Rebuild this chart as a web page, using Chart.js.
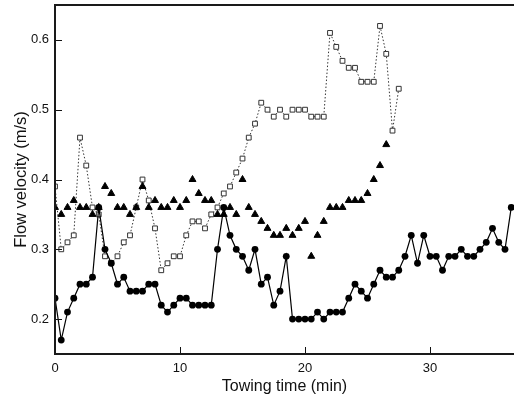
<!DOCTYPE html>
<html>
<head>
<meta charset="utf-8">
<script src="https://cdn.jsdelivr.net/npm/chart.js@4"></script>
<style>
  html, body { margin: 0; padding: 0; background: #fff; }
  #wrap { width: 514px; height: 396px; }
</style>
</head>
<body>
<div id="wrap"><canvas id="c" width="514" height="396"></canvas></div>
<script>
// Towing time (min)
const timeMin = [0,0.5,1,1.5,2,2.5,3,3.5,4,4.5,5,5.5,6,6.5,7,7.5,8,8.5,9,9.5,
  10,10.5,11,11.5,12,12.5,13,13.5,14,14.5,15,15.5,16,16.5,17,17.5,18,18.5,19,19.5,
  20,20.5,21,21.5,22,22.5,23,23.5,24,24.5,25,25.5,26,26.5,27,27.5,28,28.5,29,29.5,
  30,30.5,31,31.5,32,32.5,33,33.5,34,34.5,35,35.5,36,36.5];

// Filled circles, solid line
const circleVel = [0.23,0.17,0.21,0.23,0.25,0.25,0.26,0.36,0.30,0.28,
  0.25,0.26,0.24,0.24,0.24,0.25,0.25,0.22,0.21,0.22,
  0.23,0.23,0.22,0.22,0.22,0.22,0.30,0.36,0.32,0.30,
  0.29,0.27,0.30,0.25,0.26,0.22,0.24,0.29,0.20,0.20,
  0.20,0.20,0.21,0.20,0.21,0.21,0.21,0.23,0.25,0.24,
  0.23,0.25,0.27,0.26,0.26,0.27,0.29,0.32,0.28,0.32,
  0.29,0.29,0.27,0.29,0.29,0.30,0.29,0.29,0.30,0.31,
  0.33,0.31,0.30,0.36];

// Filled triangles, no line
const triangleVel = [0.36,0.35,0.36,0.37,0.36,0.36,0.35,0.36,0.39,0.38,
  0.36,0.36,0.35,0.36,0.39,0.36,0.37,0.36,0.36,0.37,
  0.36,0.37,0.40,0.38,0.37,0.37,0.35,0.35,0.36,0.35,
  0.40,0.36,0.35,0.34,0.33,0.32,0.32,0.33,0.32,0.33,
  0.34,0.29,0.32,0.34,0.36,0.36,0.36,0.37,0.37,0.37,
  0.38,0.40,0.42,0.45];

// Open squares, dotted line
const squareVel = [0.39,0.30,0.31,0.32,0.46,0.42,0.36,0.35,0.29,0.28,
  0.29,0.31,0.32,0.36,0.40,0.37,0.33,0.27,0.28,0.29,
  0.29,0.32,0.34,0.34,0.33,0.35,0.36,0.38,0.39,0.41,
  0.43,0.46,0.48,0.51,0.50,0.49,0.50,0.49,0.50,0.50,
  0.50,0.49,0.49,0.49,0.61,0.59,0.57,0.56,0.56,0.54,
  0.54,0.54,0.62,0.58,0.47,0.53];

const xTicks = [0, 10, 20, 30];
const yTicks = [0.2, 0.3, 0.4, 0.5, 0.6];
const xTitle = 'Towing time (min)';
const yTitle = 'Flow velocity (m/s)';

function pts(vals) { return vals.map((v, i) => ({ x: timeMin[i], y: v })); }

const FONT = '"Liberation Sans", Arial, Helvetica, sans-serif';

// Stretch the plot area to the right edge of the canvas (frame runs off the picture)
const stretchPlugin = {
  id: 'stretch',
  afterLayout(chart) {
    const a = chart.chartArea;
    const xs = chart.scales.x;
    a.right = chart.width;
    a.width = a.right - a.left;
    xs.right = chart.width;
    xs.width = xs.right - xs.left;
    xs.configure();
  }
};

const framePlugin = {
  id: 'frame',
  afterDatasetsDraw(chart) {
    const { ctx, chartArea: a, scales } = chart;
    ctx.save();
    ctx.strokeStyle = '#111';
    ctx.lineWidth = 1;
    yTicks.forEach(v => {
      const y = Math.round(scales.y.getPixelForValue(v)) + 0.5;
      ctx.beginPath(); ctx.moveTo(a.left, y); ctx.lineTo(a.left + 7, y); ctx.stroke();
    });
    xTicks.forEach(v => {
      const x = Math.round(scales.x.getPixelForValue(v)) + 0.5;
      ctx.beginPath(); ctx.moveTo(x, a.bottom); ctx.lineTo(x, a.bottom - 7); ctx.stroke();
    });
    ctx.lineWidth = 2;
    ctx.strokeStyle = '#1a1a1a';
    ctx.beginPath();
    ctx.moveTo(a.right, a.top);
    ctx.lineTo(a.left, a.top);
    ctx.lineTo(a.left, a.bottom);
    ctx.lineTo(a.right, a.bottom);
    ctx.stroke();
    ctx.restore();
  }
};

new Chart(document.getElementById('c'), {
  type: 'scatter',
  data: {
    datasets: [
      {
        label: 'squares',
        data: pts(squareVel),
        showLine: true,
        borderColor: '#333',
        borderWidth: 1,
        borderDash: [1.5, 2],
        pointStyle: 'rect',
        pointRadius: 3.4,
        pointBackgroundColor: '#fff',
        pointBorderColor: '#333',
        pointBorderWidth: 1,
        order: 3
      },
      {
        label: 'triangles',
        data: pts(triangleVel),
        showLine: false,
        pointStyle: 'triangle',
        pointRadius: 4,
        pointBackgroundColor: '#000',
        pointBorderColor: '#000',
        pointBorderWidth: 1,
        order: 2
      },
      {
        label: 'circles',
        data: pts(circleVel),
        showLine: true,
        borderColor: '#000',
        borderWidth: 1.2,
        pointStyle: 'circle',
        pointRadius: 3.4,
        pointBackgroundColor: '#000',
        pointBorderColor: '#000',
        pointBorderWidth: 0,
        order: 1
      }
    ]
  },
  options: {
    responsive: false,
    animation: false,
    devicePixelRatio: 1,
    layout: { padding: { top: 5, right: 0, left: 0, bottom: 0 } },
    plugins: { legend: { display: false }, tooltip: { enabled: false } },
    scales: {
      x: {
        type: 'linear',
        min: 0,
        max: 36.72,
        afterBuildTicks(s) { s.ticks = xTicks.map(v => ({ value: v })); },
        afterFit(s) { s.height = 42; s.paddingLeft = 0; s.paddingRight = 0; },
        grid: { display: false, drawTicks: false },
        border: { display: false },
        ticks: {
          padding: 7,
          color: '#111',
          font: { family: FONT, size: 13 },
          callback: v => String(v)
        },
        title: {
          display: true,
          text: xTitle,
          color: '#111',
          font: { family: FONT, size: 16 },
          padding: { top: 1, bottom: 0 }
        }
      },
      y: {
        type: 'linear',
        min: 0.15,
        max: 0.65,
        afterBuildTicks(s) { s.ticks = yTicks.map(v => ({ value: v })); },
        afterFit(s) { s.width = 55; s.paddingTop = 0; s.paddingBottom = 0; },
        grid: { display: false, drawTicks: false },
        border: { display: false },
        ticks: {
          padding: 6,
          color: '#111',
          font: { family: FONT, size: 13 },
          callback: v => v.toFixed(1)
        },
        title: {
          display: true,
          text: yTitle,
          color: '#111',
          font: { family: FONT, size: 16.5 },
          padding: { top: 12, bottom: 0 }
        }
      }
    }
  },
  plugins: [stretchPlugin, framePlugin]
});
</script>
</body>
</html>
